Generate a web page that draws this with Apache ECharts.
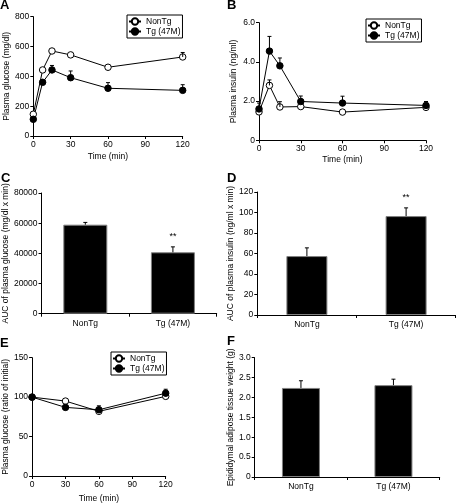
<!DOCTYPE html>
<html><head><meta charset="utf-8">
<script src="https://cdn.jsdelivr.net/npm/echarts@6/dist/echarts.min.js"></script>
<style>html,body{margin:0;padding:0;background:#fff}#c{width:456px;height:504px}</style>
</head><body><div id="c"></div>
<script>
// ---- data ----
var timeAB = [0, 7.5, 15, 30, 60, 120];
var glucNonTg = [146, 443, 570, 544, 461, 530];
var glucNonTgErr = [0, 0, 0, 0, 0, 30];
var glucTg = [112, 360, 443, 391, 320, 306];
var glucTgErr = [0, 10, 30, 45, 38, 38];

var insNonTg = [1.45, 2.8, 1.7, 1.72, 1.44, 1.68];
var insNonTgErr = [0, 0.28, 0.27, 0, 0, 0];
var insTg = [1.6, 4.55, 3.8, 1.98, 1.9, 1.78];
var insTgErr = [0.3, 0.75, 0.4, 0.28, 0.35, 0.2];

var timeE = [0, 30, 60, 120];
var ratioNonTg = [100, 95, 82, 101];
var ratioNonTgErr = [0, 0, 0, 3];
var ratioTg = [100, 87, 84, 105];
var ratioTgErr = [0, 0, 5, 5];

var groups = ['NonTg', 'Tg (47M)'];
var aucGluc = [59000, 40700];
var aucGlucErr = [1500, 3600];
var aucIns = [57.5, 96.5];
var aucInsErr = [8, 8];
var fatWeight = [2.24, 2.31];
var fatWeightErr = [0.18, 0.15];
var sigMarks = ['', '**'];
var sigMarksF = ['', ''];
var panelLetters = ['A', 'B', 'C', 'D', 'E', 'F'];

// ---- helpers ----
var FONT = 'Liberation Sans, Arial, sans-serif';
var TXT = {color: '#000', fontFamily: FONT, fontSize: 8.5};

function pairs(xs, ys) { return xs.map(function (x, i) { return [x, ys[i]]; }); }
function triples(xs, ys, es, labels) {
  return xs.map(function (x, i) { return [x, ys[i], es[i], labels ? labels[i] : '']; });
}
function errRender(params, api) {
  var x = api.value(0), y = api.value(1), e = api.value(2), lab = api.value(3);
  var p0 = api.coord([x, y]);
  var p1 = api.coord([x, y + e]);
  var ch = [];
  if (e > 0) {
    ch.push({type: 'line', shape: {x1: p0[0], y1: p0[1], x2: p1[0], y2: p1[1]}, style: {stroke: '#000', lineWidth: 1}});
    ch.push({type: 'line', shape: {x1: p1[0] - 2, y1: p1[1], x2: p1[0] + 2, y2: p1[1]}, style: {stroke: '#000', lineWidth: 1}});
  }
  if (lab && lab !== '' && lab !== '-') {
    ch.push({type: 'text', style: {text: String(lab), x: p1[0], y: p1[1] - 10, align: 'center', verticalAlign: 'middle', fill: '#000', font: '9px ' + FONT}});
  }
  return {type: 'group', children: ch};
}
function dec1(v) { return v === 0 ? '0' : v.toFixed(1); }
function plain(v) { return String(v); }

function valX(idx, nameGap) {
  return {type: 'value', gridIndex: idx, min: 0, max: 120, interval: 30,
    name: 'Time (min)', nameLocation: 'middle', nameGap: nameGap, nameTextStyle: TXT,
    axisLine: {show: true, lineStyle: {color: '#000', width: 1}},
    axisTick: {show: true, length: 3, lineStyle: {color: '#000'}},
    axisLabel: Object.assign({margin: 4}, TXT), splitLine: {show: false}};
}
function catX(idx) {
  return {type: 'category', gridIndex: idx, data: groups,
    axisLine: {show: true, lineStyle: {color: '#000', width: 1}},
    axisTick: {show: true, length: 3, lineStyle: {color: '#000'}},
    axisLabel: Object.assign({margin: 5}, TXT), splitLine: {show: false}};
}
function valY(idx, max, interval, name, nameGap, fmt) {
  var o = {type: 'value', gridIndex: idx, min: 0, max: max, interval: interval,
    name: name, nameLocation: 'middle', nameGap: nameGap, nameTextStyle: TXT,
    axisLine: {show: true, lineStyle: {color: '#000', width: 1}},
    axisTick: {show: true, length: 3, lineStyle: {color: '#000'}},
    axisLabel: Object.assign({margin: 4, formatter: fmt || plain}, TXT), splitLine: {show: false}};
  return o;
}
var openStyle = {color: '#fff', borderColor: '#000', borderWidth: 1};
var fillStyle = {color: '#000', borderColor: '#000', borderWidth: 1};
function lineSeries(name, idx, xs, ys, style) {
  return {type: 'line', name: name, xAxisIndex: idx, yAxisIndex: idx, data: pairs(xs, ys),
    symbol: 'circle', symbolSize: 6.5, showAllSymbol: true, z: 3,
    lineStyle: {color: '#000', width: 1}, itemStyle: style, emphasis: {disabled: true}};
}
function errSeries(idx, xs, ys, es, labels) {
  return {type: 'custom', xAxisIndex: idx, yAxisIndex: idx, data: triples(xs, ys, es, labels),
    encode: {x: 0, y: 1}, renderItem: errRender, z: 4, silent: true};
}
function barSeries(idx, ys, width) {
  return {type: 'bar', xAxisIndex: idx, yAxisIndex: idx, data: ys, barWidth: width,
    itemStyle: {color: '#000', borderColor: '#808080', borderWidth: 1}, z: 2, emphasis: {disabled: true}};
}
function legendAt(left, top) {
  return {left: left, top: top, orient: 'vertical', data: ['NonTg', 'Tg (47M)'],
    borderColor: '#000', borderWidth: 1, padding: [2, 2, 2, 1], itemGap: 1,
    itemWidth: 12, itemHeight: 8, textStyle: {color: '#000', fontFamily: FONT, fontSize: 8.5}, selectedMode: false};
}
var titlePos = [[0, -1], [227, -1], [1, 172], [227, 172], [0, 337], [227, 335]];

var option = {
  animation: false,
  backgroundColor: '#fff',
  title: panelLetters.map(function (t, i) {
    return {text: t, left: titlePos[i][0], top: titlePos[i][1], padding: 0,
      textStyle: {fontFamily: FONT, fontWeight: 'bold', fontSize: 13, color: '#000'}};
  }),
  legend: [legendAt(127, 15), legendAt(366, 19), legendAt(111, 352)],
  grid: [
    {left: 33.3, top: 16.7, width: 149.4, height: 119.3},
    {left: 259, top: 22.7, width: 167, height: 117.6},
    {left: 40.7, top: 193, width: 176, height: 120.7},
    {left: 257.3, top: 192, width: 198.4, height: 123},
    {left: 28.3, top: 357.7, width: 137.4, height: 119.3},
    {left: 254.7, top: 357.7, width: 185, height: 119.3}
  ],
  xAxis: [valX(0, 16), valX(1, 15), catX(2), catX(3), valX(4, 18), catX(5)],
  yAxis: [
    valY(0, 800, 200, 'Plasma glucose (mg/dl)', 21),
    valY(1, 6, 2, 'Plasma insulin (ng/ml)', 21, dec1),
    valY(2, 80000, 20000, 'AUC of plasma glucose (mg/dl x min)', 30),
    valY(3, 120, 20, 'AUC of plasma insulin (ng/ml x min)', 19),
    valY(4, 150, 50, 'Plasma glucose (ratio of initial)', 20),
    valY(5, 3, 0.5, 'Epididymal adipose tissue weight (g)', 17, dec1)
  ],
  series: [
    errSeries(0, timeAB, glucNonTg, glucNonTgErr),
    errSeries(0, timeAB, glucTg, glucTgErr),
    lineSeries('NonTg', 0, timeAB, glucNonTg, openStyle),
    lineSeries('Tg (47M)', 0, timeAB, glucTg, fillStyle),

    errSeries(1, timeAB, insNonTg, insNonTgErr),
    errSeries(1, timeAB, insTg, insTgErr),
    lineSeries('NonTg', 1, timeAB, insNonTg, openStyle),
    lineSeries('Tg (47M)', 1, timeAB, insTg, fillStyle),

    barSeries(2, aucGluc, 44),
    errSeries(2, [0, 1], aucGluc, aucGlucErr, sigMarks),

    barSeries(3, aucIns, 41),
    errSeries(3, [0, 1], aucIns, aucInsErr, sigMarks),

    errSeries(4, timeE, ratioNonTg, ratioNonTgErr),
    errSeries(4, timeE, ratioTg, ratioTgErr),
    lineSeries('NonTg', 4, timeE, ratioNonTg, openStyle),
    lineSeries('Tg (47M)', 4, timeE, ratioTg, fillStyle),

    barSeries(5, fatWeight, 38),
    errSeries(5, [0, 1], fatWeight, fatWeightErr, sigMarksF)
  ]
};
var chart = echarts.init(document.getElementById('c'), null, {renderer: 'canvas'});
chart.setOption(option);
</script></body></html>
